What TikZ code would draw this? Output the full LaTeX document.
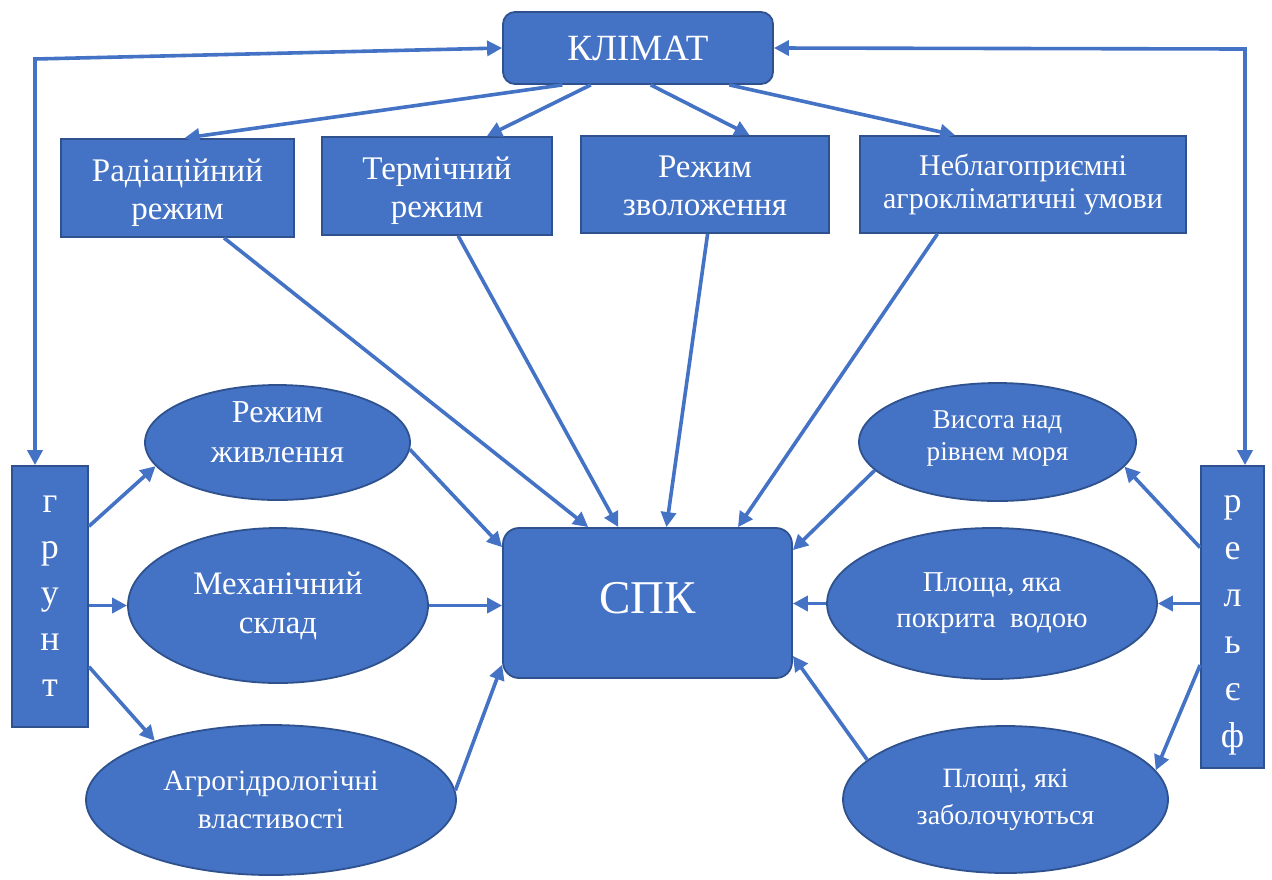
\documentclass[tikz,border=0pt]{standalone}
\usepackage{fontspec}
\setmainfont{Liberation Serif}
\usetikzlibrary{shapes.geometric,arrows.meta}
\definecolor{obl}{HTML}{4472C4}
\definecolor{obd}{HTML}{2F528F}
\newcommand{\twoline}[2]{\begin{tabular}{@{}c@{}}#1\\#2\end{tabular}}
\newcommand{\shiftv}[2]{\raisebox{#1}[\height][\depth]{#2}}
\begin{document}
\begin{tikzpicture}[x=0.5pt,y=-0.5pt,
  box/.style={draw=obd,fill=obl,line width=0.9pt,text=white,align=center,inner sep=0pt},
  rbox/.style={box,rounded corners=8pt},
  ell/.style={box,ellipse},
  arr/.style={draw=obl,line width=1.8pt,-{Triangle[length=7.5pt,width=7.5pt]}},
  darr/.style={draw=obl,line width=1.8pt,{Triangle[length=7.5pt,width=7.5pt]}-{Triangle[length=7.5pt,width=7.5pt]}},
  fbox/.style={font=\fontsize{16.5pt}{19pt}\selectfont},
]
\useasboundingbox (0,0) rectangle (1272,879);
\fill[white] (0,0) rectangle (1272,879);

% top
\node[rbox,rounded corners=6pt,minimum width=135pt,minimum height=36pt,font=\fontsize{18.5pt}{20pt}\selectfont] (klimat) at (638,48) {КЛІМАТ};
\node[box,fbox,minimum width=116.5pt,minimum height=49pt] (rad) at (177.5,188) {\shiftv{-2.5pt}{\twoline{Радіаційний}{режим}}};
\node[box,fbox,minimum width=115pt,minimum height=49pt] (term) at (437,186) {\shiftv{-2.5pt}{\twoline{Термічний}{режим}}};
\node[box,fbox,minimum width=124pt,minimum height=48.5pt] (zvol) at (705,184.5) {\shiftv{-2pt}{\twoline{Режим}{зволоження}}};
\node[box,font=\fontsize{15pt}{16.5pt}\selectfont,minimum width=163pt,minimum height=48.5pt] (nebl) at (1023,184.5) {Неблагоприємні\\агрокліматичні умови};

% centre
\node[rbox,minimum width=144.5pt,minimum height=75pt,font=\fontsize{23.5pt}{26pt}\selectfont] (spk) at (647.5,603) {\shiftv{2.5pt}{СПК}};

% side bars
\node[box,minimum width=38pt,minimum height=130.5pt,font=\fontsize{18pt}{23pt}\selectfont] (grunt) at (50,596.5) {г\\р\\у\\н\\т};
\node[box,minimum width=31.5pt,minimum height=151pt,font=\fontsize{18pt}{23.5pt}\selectfont] (relief) at (1232.5,617) {\shiftv{-2pt}{\begin{tabular}{@{}c@{}}р\\е\\л\\ь\\є\\ф\end{tabular}}};

% left ellipses
\node[ell,minimum width=132.5pt,minimum height=57.5pt,font=\fontsize{16pt}{20pt}\selectfont] (zhyv) at (277.5,442.5) {\shiftv{4pt}{\twoline{Режим}{живлення}}};
\node[ell,minimum width=150pt,minimum height=77.5pt,font=\fontsize{16.4pt}{19.5pt}\selectfont] (mekh) at (278,605.5) {Механічний\\склад};
\node[ell,minimum width=185pt,minimum height=75pt,font=\fontsize{14.7pt}{19pt}\selectfont] (agro) at (271,800) {Агрогідрологічні\\властивості};

% right ellipses
\node[ell,minimum width=138.5pt,minimum height=59pt,font=\fontsize{13.6pt}{16pt}\selectfont] (vys) at (997.5,442) {\shiftv{2pt}{\twoline{Висота над}{рівнем моря}}};
\node[ell,minimum width=165pt,minimum height=75.5pt,font=\fontsize{14.4pt}{18pt}\selectfont] (plosha) at (992,603.5) {Площа, яка\\покрита\ \ водою};
\node[ell,minimum width=162.5pt,minimum height=73.5pt,font=\fontsize{14pt}{18.5pt}\selectfont] (ploshchi) at (1005.5,799.5) {Площі, які\\заболочуються};

% climate links
\coordinate (cL) at (35,59);
\coordinate (cR) at (1245,49);
\draw[darr] (cL |- grunt.north) -- (cL) -- (klimat.west);
\draw[darr] (cR |- relief.north) -- (cR) -- (klimat.east);
\draw[arr] (klimat.206) -- (rad.82.4);
\draw[arr] (klimat.218.7) -- (term.45.6);
\draw[arr] (klimat.289.9) -- (zvol.48.4);
\draw[arr] (klimat.338) -- (nebl.144.1);

% to SPK from top boxes
\draw[arr] (rad.-47.8) -- (spk.128.9);
\draw[arr] (term.-67.8) -- (spk.111.5);
\draw[arr] (zvol.-87.6) -- (spk.76.1);
\draw[arr] (nebl.210.3) -- (spk.40.6);

% soil
\draw[arr] (grunt.61.3) -- (zhyv.191.6);
\draw[arr] (grunt.east |- mekh.west) -- (mekh.west);
\draw[arr] (grunt.-61) -- (agro.153);
\draw[arr] (zhyv.-3.7) -- (spk.159.9);
\draw[arr] (mekh.east) -- (spk.west |- mekh.east);
\draw[arr] (agro.3.7) -- (spk.203.2);

% relief
\draw[arr] (relief.115.5) -- (vys.-11.4);
\draw[arr] (relief.west |- plosha.east) -- (plosha.east);
\draw[arr] (relief.236.5) -- (ploshchi.11.7);
\draw[arr] (vys.193.2) -- (spk.20.1);
\draw[arr] (plosha.west) -- (spk.east |- plosha.west);
\draw[arr] (ploshchi.164.2) -- (spk.-20.5);
\end{tikzpicture}
\end{document}
